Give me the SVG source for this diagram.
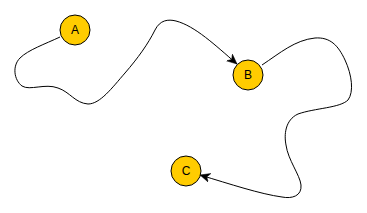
<svg xmlns="http://www.w3.org/2000/svg" width="367" height="213" viewBox="0 0 367 213">
<style>
.node{fill:#ffcc00;stroke:#000;stroke-width:1}
.lbl{font-family:"Liberation Sans",Arial,sans-serif;font-size:12px;fill:#000;text-anchor:middle;dominant-baseline:central}
.edge{fill:none;stroke:#000;stroke-width:1}
</style>
<defs>
<marker id="arr" markerUnits="userSpaceOnUse" markerWidth="12" markerHeight="10" refX="10" refY="4.5" orient="auto">
<path d="M0,0 L10,4.5 L0,9 L3,4.5 z" fill="#000" stroke="#000" stroke-width="0.5"/>
</marker>
</defs>
<rect width="367" height="213" fill="#fff"/>
<g id="edges">
<path class="edge" marker-end="url(#arr)" d="M 60,37 C 45,44 28,50 20,58 C 12,66 14,80 22,86 C 30,91 45,83 58,88 C 70,92 75,103 88,104 C 100,104 112,88 125,73 C 138,58 148,44 155,30 C 160,20 168,19 176,21 C 195,26 215,45 237,64"/>
<path class="edge" marker-end="url(#arr)" d="M 262,65 C 280,53 295,40 315,38 C 330,37 338,45 345,60 C 352,75 354,92 348,100 C 340,108 315,108 298,114 C 285,120 284,135 286,145 C 288,160 300,175 301,185 C 302,196 292,199 282,197 C 260,194 230,184 200,175"/>
</g>
<g id="A"><circle class="node" cx="75" cy="30" r="15"/><text class="lbl" x="75" y="30">A</text></g>
<g id="B"><circle class="node" cx="248" cy="75" r="15"/><text class="lbl" x="248" y="75">B</text></g>
<g id="C"><circle class="node" cx="186" cy="171" r="15"/><text class="lbl" x="186" y="171">C</text></g>
</svg>
